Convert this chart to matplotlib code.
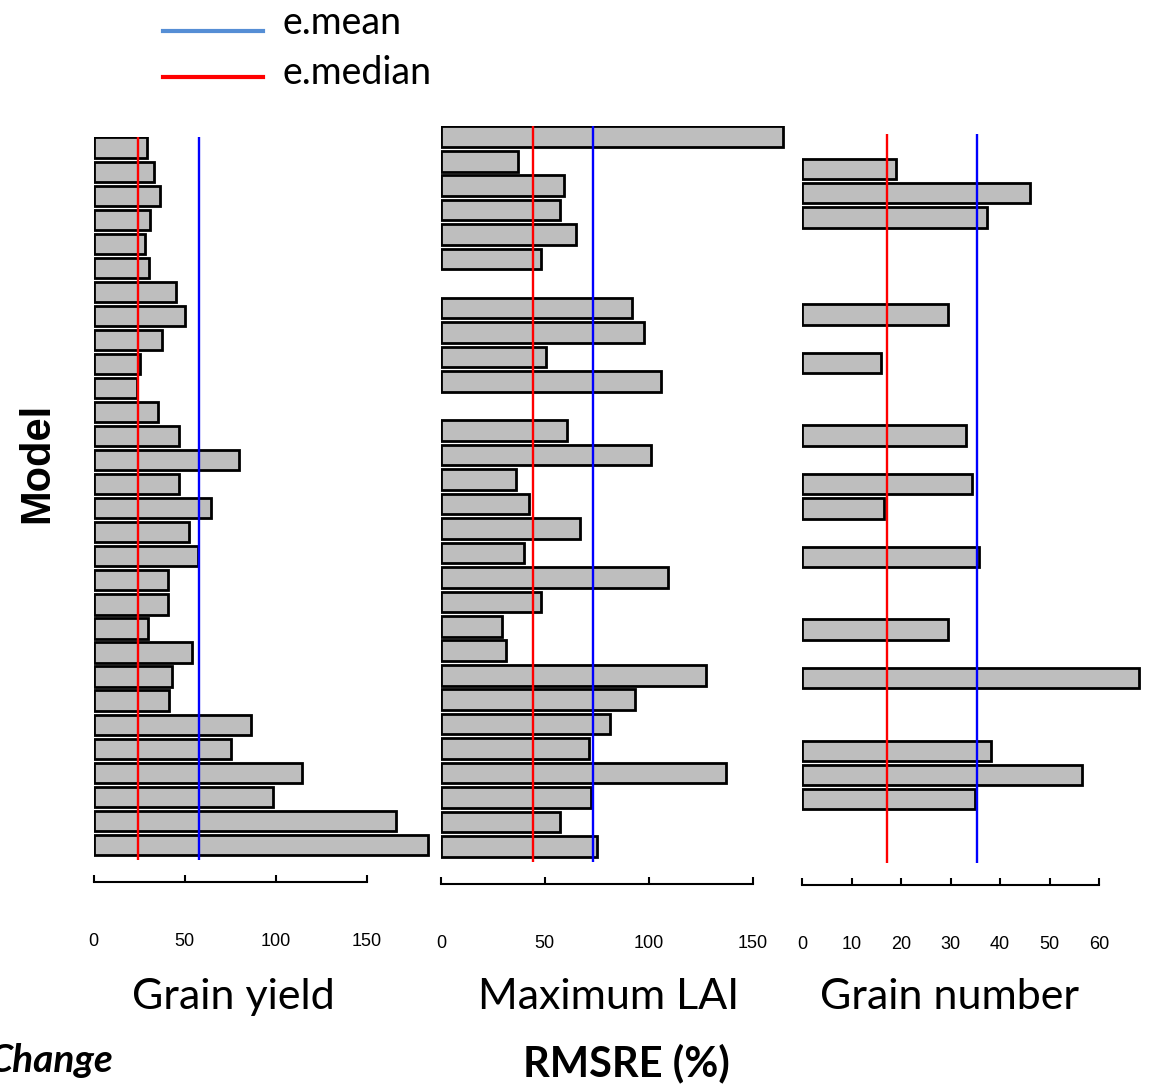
import numpy as np
import matplotlib
matplotlib.use("Agg")
import matplotlib.pyplot as plt
from matplotlib.lines import Line2D

# ---------------- data ----------------
nan = np.nan
models = list(range(1, 31))  # 30 models (rows, top to bottom)

grain_yield = [29.5, 33, 36.8, 31.3, 28.2, 30.6, 45.6, 50.2, 37.5, 25.8,
               23.8, 35.3, 46.9, 79.7, 46.9, 64.8, 52.4, 57.3, 40.8, 40.8,
               29.7, 54.0, 43.0, 41.4, 86.8, 75.8, 114.7, 98.4, 166.3, 183.7]
grain_yield_mean, grain_yield_median = 57.7, 24.2

max_lai = [164.5, 36.9, 59.4, 57.1, 64.8, 48.1, nan, 92.0, 97.6, 50.7,
           105.9, nan, 60.5, 101.0, 36.1, 42.4, 67.1, 39.8, 109.4, 48.1,
           29.2, 31.4, 127.4, 93.4, 81.5, 71.1, 137.2, 72.2, 57.3, 75.3]
max_lai_mean, max_lai_median = 73.0, 44.5

grain_number = [nan, 19.0, 46.1, 37.4, nan, nan, nan, 29.4, nan, 16.0,
                nan, nan, 33.1, nan, 34.3, 16.6, nan, 35.8, nan, nan,
                29.4, nan, 68.1, nan, nan, 38.2, 56.5, 35.0, nan, nan]
grain_number_mean, grain_number_median = 35.3, 17.1

titles = ["Grain yield", "Maximum LAI", "Grain number"]
xticks = [[0, 50, 100, 150], [0, 50, 100, 150], [0, 10, 20, 30, 40, 50, 60]]

# ---------------- layout ----------------
W, H = 1151, 1085
fig = plt.figure(figsize=(W / 100, H / 100), dpi=100)

def fx(x):
    return x / W

def fy(y):
    return 1 - y / H

# (left px of zero, px per unit, right px, top px, bottom px)
panels = [
    (93.5, 1.82, 431, 137, 860),
    (441.0, 2.077, 785, 126, 862),
    (802.0, 4.95, 1141, 134, 863),
]
series = [
    (grain_yield, grain_yield_mean, grain_yield_median),
    (max_lai, max_lai_mean, max_lai_median),
    (grain_number, grain_number_mean, grain_number_median),
]

for i, ((x0, ppu, xr, yt, yb), (vals, mn, md)) in enumerate(zip(panels, series)):
    ax = fig.add_axes([fx(x0), fy(yb), (xr - x0) / W, (yb - yt) / H])
    idx = np.arange(len(models))
    v = np.array(vals, dtype=float)
    m = ~np.isnan(v)
    ax.barh(idx[m], v[m], height=0.84, color="#bebebe", edgecolor="black",
            linewidth=2.0, zorder=1)
    ax.axvline(md, color="#ff0000", lw=1.7, zorder=3)
    ax.axvline(mn, color="#0000ff", lw=1.7, zorder=3)
    ax.set_xlim(0, (xr - x0) / ppu)
    ax.set_ylim(29.63, -0.44)
    for s in ["top", "right", "left"]:
        ax.spines[s].set_visible(False)
    ax.spines["bottom"].set_position(("outward", 22 * 0.72))
    ax.spines["bottom"].set_bounds(xticks[i][0], xticks[i][-1])
    ax.spines["bottom"].set_linewidth(1.5)
    ax.set_yticks([])
    ax.set_xticks(xticks[i])
    ax.set_xticklabels([str(t) for t in xticks[i]],
                       fontfamily=["Liberation Sans Narrow", "Liberation Sans", "DejaVu Sans"],
                       fontsize=13)
    ax.tick_params(axis="x", direction="in", length=5, width=1.5, pad=36.5)
    ax.patch.set_alpha(0)

# panel titles
title_x = [233, 609, 949]
for t, x in zip(titles, title_x):
    fig.text(fx(x), fy(997), t, ha="center", va="center",
             fontfamily=["Lato", "DejaVu Sans"], fontsize=31)

fig.text(fx(626), fy(1063), "RMSRE (%)", ha="center", va="center",
         fontfamily=["Lato", "DejaVu Sans"], fontweight="bold", fontsize=30)
fig.text(fx(113), fy(1060), "Change", ha="right", va="center",
         fontfamily=["Lato", "DejaVu Sans"], fontweight="bold",
         fontstyle="italic", fontsize=28)
fig.text(fx(37), fy(463), "Model", ha="center", va="center", rotation=90,
         fontfamily=["Liberation Sans", "DejaVu Sans"], fontweight="bold",
         fontsize=30)

# legend
fig.add_artist(Line2D([fx(163), fx(263)], [fy(31), fy(31)], color="#558ed5",
                      lw=3, transform=fig.transFigure))
fig.add_artist(Line2D([fx(163), fx(263)], [fy(77), fy(77)], color="#ff0000",
                      lw=3, transform=fig.transFigure))
fig.text(fx(283), fy(23), "e.mean", ha="left", va="center",
         fontfamily=["Lato", "DejaVu Sans"], fontsize=27)
fig.text(fx(283), fy(73), "e.median", ha="left", va="center",
         fontfamily=["Lato", "DejaVu Sans"], fontsize=27)

fig.savefig("out.png", dpi=100)
